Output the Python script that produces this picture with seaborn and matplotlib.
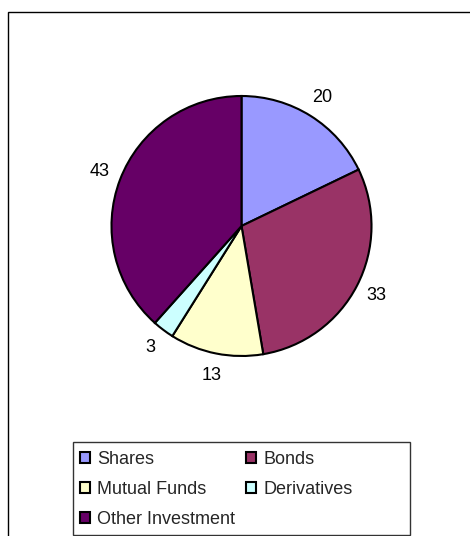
import matplotlib
matplotlib.use("Agg")
import matplotlib.pyplot as plt
import seaborn as sns
from matplotlib.patches import Rectangle, Patch

categories = ["Shares", "Bonds", "Mutual Funds", "Derivatives", "Other Investment"]
values = [20, 33, 13, 3, 43]
colors = ["#9999FF", "#993366", "#FFFFCC", "#CCFFFF", "#660066"]

sns.set_theme(style="white")
plt.rcParams["font.family"] = ["Liberation Sans", "DejaVu Sans"]

W, H = 470, 536
fig = plt.figure(figsize=(W / 100, H / 100), dpi=100)

# outer frame (extends past right/bottom edges as in reference)
fig.patches.append(Rectangle((8 / W, -0.1), 1.2, 1 - 12 / H + 0.1,
                             transform=fig.transFigure, fill=False,
                             edgecolor="black", linewidth=1.0))

cx, cy, r = 241.5, 226, 130
ax = fig.add_axes([(cx - r) / W, 1 - (cy + r) / H, 2 * r / W, 2 * r / H])
wedges, texts = ax.pie(values, labels=[str(v) for v in values], colors=colors,
                       startangle=90, counterclock=False, labeldistance=1.17,
                       wedgeprops=dict(edgecolor="black", linewidth=1.5),
                       textprops=dict(fontsize=13, color="black"))
for t in texts:
    t.set_ha("center")
    t.set_va("center")
ax.set_xlim(-1, 1)
ax.set_ylim(-1, 1)
ax.set_aspect("equal")
ax.axis("off")

# legend frame
fig.patches.append(Rectangle((73 / W, 1 - 535 / H), (410 - 73) / W, (535 - 442) / H,
                             transform=fig.transFigure, fill=False,
                             edgecolor="#333333", linewidth=1.0))

handles = [Patch(facecolor=c, edgecolor="black", linewidth=1.5) for c in colors]
order = [0, 2, 4, 1, 3]
leg = fig.legend([handles[i] for i in order], [categories[i] for i in order],
                 ncol=2, loc="upper left",
                 bbox_to_anchor=(80 / W, 1 - 451 / H),
                 fontsize=13, frameon=False,
                 handlelength=0.55, handleheight=0.55,
                 handletextpad=0.4, labelspacing=0.72, borderpad=0.0,
                 columnspacing=0.6, borderaxespad=0)

fig.savefig("out.png", dpi=100)
